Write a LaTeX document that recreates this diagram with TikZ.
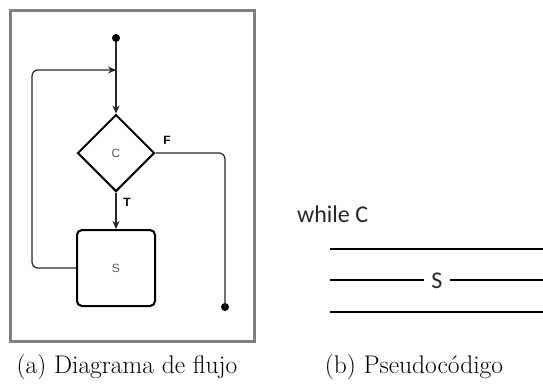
\documentclass[tikz,border=0pt]{standalone}
\usepackage{fontspec}
\newfontfamily\flowfont{Liberation Sans}
\newfontfamily\codefont{Carlito}
\usetikzlibrary{shapes.geometric,arrows.meta}
\tikzset{
  frame/.style={draw=black!50, line width=3pt},
  flowline/.style={draw=black!85, line width=1.2pt, rounded corners=6pt},
  flowarrow/.style={flowline, -{Stealth[length=8pt,width=7pt]}},
  decision/.style={diamond, draw=black, line width=2pt, minimum width=77pt, minimum height=77pt, inner sep=0pt, font=\flowfont\fontsize{12}{14}\selectfont, text=black!65},
  process/.style={rectangle, rounded corners=5pt, draw=black, line width=2pt, minimum width=78pt, minimum height=76pt, font=\flowfont\fontsize{12}{14}\selectfont, text=black!65},
  endpoint/.style={circle, fill=black, inner sep=0pt, minimum size=8pt},
  branchlabel/.style={font=\flowfont\bfseries\fontsize{12}{14}\selectfont},
  codeline/.style={draw=black, line width=1.6pt},
  codetext/.style={font=\codefont\fontsize{24}{28}\selectfont, text=black!85, inner sep=0pt},
  caption/.style={font=\fontsize{25.5}{30}\selectfont}
}
\begin{document}
\begin{tikzpicture}[x=1pt,y=-1pt]
\useasboundingbox (0,0) rectangle (543,383);
% panel (a): flow chart of the while loop
\draw[frame] (10,10) rectangle (254,341);
\node[endpoint] (start) at (116,38) {};
\coordinate (join) at (116,70);
\node[decision] (cond) at (116,153) {C};
\node[process] (body) at (116,268) {S};
\node[endpoint] (stop) at (225,307) {};
\node[branchlabel] (f) at (167,140) {F};
\node[branchlabel] (t) at (127,202) {T};
\draw[flowline] (start) -- (join);
\draw[flowarrow] (join) -- (cond.north);
\draw[flowarrow] (cond.south) -- (body.north);
\draw[flowarrow] (body.west) -- (32,268) -- (32,70) -- (join);
\draw[flowline] (cond.east) -- (225,153) -- (stop.center);
% panel (b): pseudocode
\node[codetext, anchor=base west] (while) at (297,222) {while C};
\coordinate (l1a) at (330,249); \coordinate (l1b) at (543,249);
\coordinate (l2a) at (330,280); \coordinate (l2b) at (543,280);
\coordinate (l3a) at (330,312); \coordinate (l3b) at (543,312);
\node[codetext] (s) at (437,281) {S};
\coordinate (s1) at (424,280); \coordinate (s2) at (450,280);
\draw[codeline] (l1a) -- (l1b);
\draw[codeline] (l2a) -- (s1);
\draw[codeline] (s2) -- (l2b);
\draw[codeline] (l3a) -- (l3b);
% captions
\node[caption] (capa) at (127,367) {(a) Diagrama de flujo};
\node[caption] (capb) at (414,367) {(b) Pseudocódigo};
\end{tikzpicture}
\end{document}
